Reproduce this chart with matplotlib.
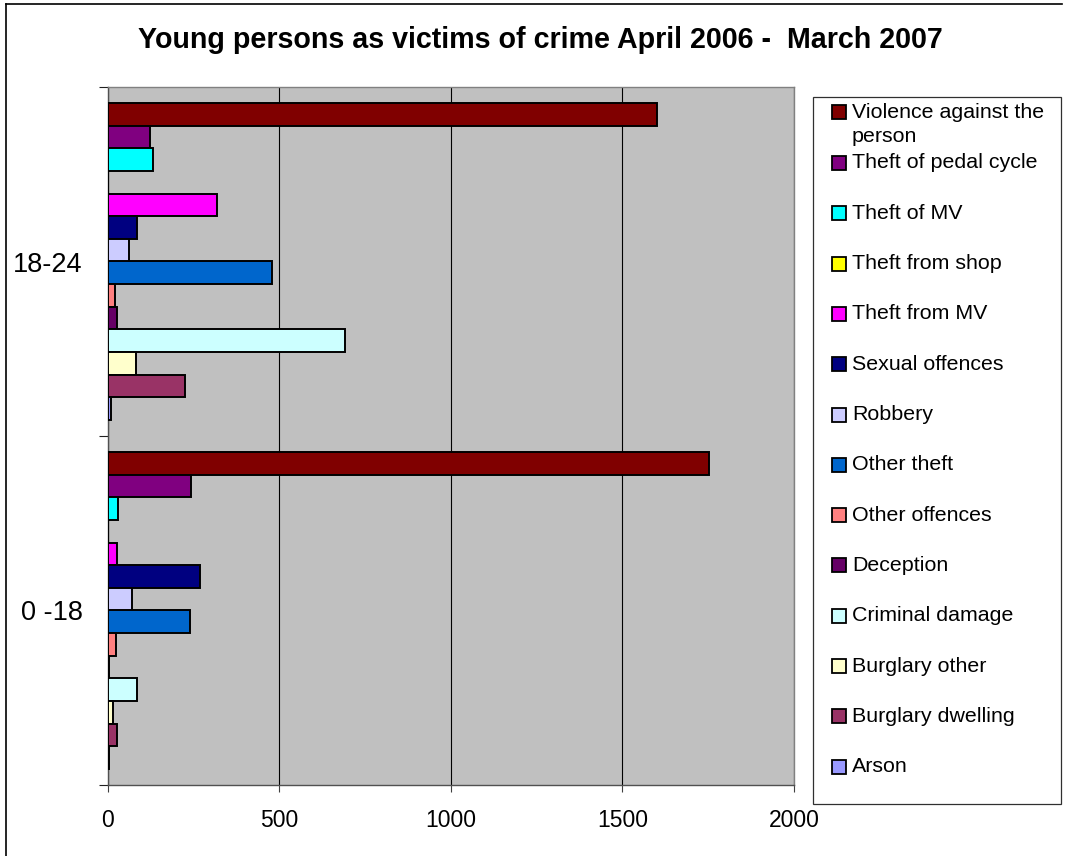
import matplotlib
matplotlib.use("Agg")
import matplotlib.pyplot as plt
from matplotlib.patches import Rectangle
from matplotlib.lines import Line2D
import numpy as np

plt.rcParams["font.family"] = ["Liberation Sans", "DejaVu Sans"]

title = "Young persons as victims of crime April 2006 -  March 2007"
categories = ["0 -18", "18-24"]
series_names = [
    "Violence against the\nperson",
    "Theft of pedal cycle",
    "Theft of MV",
    "Theft from shop",
    "Theft from MV",
    "Sexual offences",
    "Robbery",
    "Other theft",
    "Other offences",
    "Deception",
    "Criminal damage",
    "Burglary other",
    "Burglary dwelling",
    "Arson",
]
series_colors = [
    "#800000", "#800080", "#00FFFF", "#FFFF00", "#FF00FF", "#000080",
    "#CCCCFF", "#0066CC", "#FF8080", "#660066", "#CCFFFF", "#FFFFCC",
    "#993366", "#9999FF",
]
values_0_18 = [1752, 243, 31, 0, 27, 270, 72, 241, 25, 3, 86, 17, 28, 4]
values_18_24 = [1600, 123, 133, 0, 320, 86, 63, 480, 23, 29, 693, 83, 227, 9]
x_ticks = [0, 500, 1000, 1500, 2000]

W, H = 1067, 856


def fx(px):
    return px / W


def fy(py):
    return 1 - py / H


fig = plt.figure(figsize=(W / 100, H / 100), dpi=100)
ax = fig.add_axes([fx(107.5), fy(785), fx(794) - fx(107.5), fy(87) - fy(785)])
ax.set_facecolor("#C0C0C0")

n = len(series_names)
bar_h = 0.907 / n
y_base = np.arange(len(categories))
values = np.array([values_0_18, values_18_24])
for i, (name, color) in enumerate(zip(series_names, series_colors)):
    offset = ((n - 1) / 2 - i) * bar_h
    ax.barh(y_base + offset, values[:, i], height=bar_h, color=color,
            edgecolor="black", linewidth=1.4, zorder=3)

ax.set_xlim(0, 2000)
ax.set_ylim(-0.5, len(categories) - 0.5)
ax.set_xticks(x_ticks)
ax.set_xticklabels([str(t) for t in x_ticks], fontsize=16.5)
ax.tick_params(axis="x", length=5, width=0.8, pad=12, color="#404040")
ax.set_yticks([-0.5, 0.5, 1.5])
ax.set_yticklabels([])
ax.tick_params(axis="y", which="major", length=6.5, width=0.8, color="#202020")
ax.set_yticks(y_base, minor=True)
ax.set_yticklabels(categories, minor=True, fontsize=19.5)
ax.tick_params(axis="y", which="minor", length=0, pad=18)
ax.grid(axis="x", color="black", linewidth=0.8, zorder=1)
ax.set_axisbelow(True)
for side in ["top", "right"]:
    ax.spines[side].set_color("#808080")
    ax.spines[side].set_linewidth(1.0)
for side in ["left", "bottom"]:
    ax.spines[side].set_color("#505050")
    ax.spines[side].set_linewidth(1.0)

fig.text(fx(540), fy(48.5), title, ha="center", va="baseline",
         fontsize=20.6, fontweight="bold")

# legend box drawn by hand to match the spacing of the original
fig.patches.append(Rectangle((fx(813), fy(804)), fx(1061) - fx(813), fy(97) - fy(804),
                             transform=fig.transFigure, facecolor="white",
                             edgecolor="#303030", linewidth=0.9))
first_row = 112
second_row = 163
pitch = 50.3
for i, (name, color) in enumerate(zip(series_names, series_colors)):
    yc = first_row if i == 0 else second_row + (i - 1) * pitch
    fig.patches.append(Rectangle((fx(832), fy(yc + 7)), fx(846) - fx(832), fy(yc - 7) - fy(yc + 7),
                                 transform=fig.transFigure, facecolor=color,
                                 edgecolor="black", linewidth=1.3))
    for j, line in enumerate(name.split("\n")):
        fig.text(fx(852), fy(yc + 25 * j), line, ha="left", va="center",
                 fontsize=15.4)

# outer chart frame (left and top edges visible)
fig.lines.append(Line2D([fx(6), fx(6)], [fy(4), 0], transform=fig.transFigure,
                        color="black", linewidth=1.2))
fig.lines.append(Line2D([fx(6), fx(1062)], [fy(4), fy(4)], transform=fig.transFigure,
                        color="black", linewidth=1.2))

fig.savefig("out.png", dpi=100)
